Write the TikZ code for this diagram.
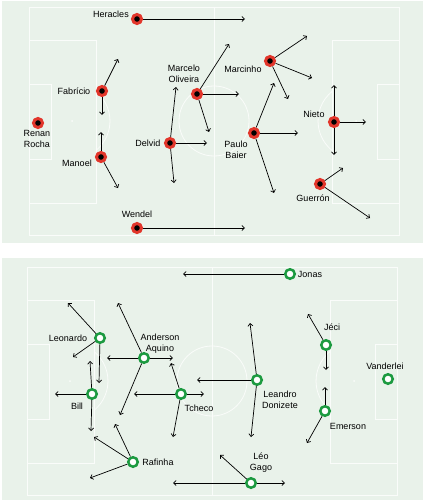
\documentclass[tikz,border=0pt]{standalone}
\usepackage{fontspec}
\setmainfont{Liberation Sans}
\usetikzlibrary{arrows.meta}
\definecolor{pitchbg}{HTML}{E9F2EA}
\definecolor{redP}{HTML}{E2362B}
\definecolor{greenP}{HTML}{1C9A40}
\definecolor{chalk}{HTML}{FAFCFA}

\begin{document}
\begin{tikzpicture}[
  x=1pt, y=-1pt,
  line/.style={draw=chalk, line width=0.8pt},
  redp/.style={circle, draw=redP, line width=3pt, fill=black, minimum size=9pt, inner sep=0pt},
  grnp/.style={circle, draw=greenP, line width=2.5pt, fill=white, minimum size=9.5pt, inner sep=0pt},
  mv/.style={-{Straight Barb[length=2.6pt,width=5pt]}, line width=0.7pt, black},
  lbl/.style={font=\fontsize{9}{11}\selectfont, align=center, inner sep=0pt}
]
\useasboundingbox (0,0) rectangle (426,503);
% panels
\fill[pitchbg] (2,1) rectangle (423,243);
\fill[pitchbg] (2,258) rectangle (423,500);
% pitch markings
\foreach \sx/\sy in {29/7, 27/267} {
  \begin{scope}[shift={(\sx,\sy)}]
    \draw[line] (0,0) rectangle (370,228);
    \draw[line] (185,0) -- (185,228);
    \draw[line] (185,114) circle[radius=35];
    \draw[line] (0,33) rectangle (67,196);
    \draw[line] (0,77) rectangle (22,152);
    \draw[line] (303,33) rectangle (370,196);
    \draw[line] (348,77) rectangle (370,152);
    \draw[line] (67,84.5) arc[start angle=-50.8, end angle=50.8, radius=38];
    \draw[line] (303,84.5) arc[start angle=230.8, end angle=129.2, radius=38];
    \fill[chalk] (43,114) circle[radius=1pt];
    \fill[chalk] (327,114) circle[radius=1pt];
  \end{scope}
}
% top team
\node[redp] (her) at (137,19) {};
\node[redp] (fab) at (102,91) {};
\node[redp] (ren) at (38,123) {};
\node[redp] (man) at (101,157) {};
\node[redp] (del) at (170,143) {};
\node[redp] (mar) at (197,94) {};
\node[redp] (mcn) at (270,61) {};
\node[redp] (pau) at (254,133) {};
\node[redp] (nie) at (334,122) {};
\node[redp] (gue) at (320,184) {};
\node[redp] (wen) at (137,228) {};
\node[lbl] (her-l) at (111,14) {Heracles};
\node[lbl] (fab-l) at (74,91) {Fabrício};
\node[lbl] (ren-l) at (37,138.5) {Renan\\Rocha};
\node[lbl] (man-l) at (77,163) {Manoel};
\node[lbl] (del-l) at (148,143) {Delvid};
\node[lbl] (mar-l) at (184,73.5) {Marcelo\\Oliveira};
\node[lbl] (mcn-l) at (243,69) {Marcinho};
\node[lbl] (pau-l) at (236,149.5) {Paulo\\Baier};
\node[lbl] (nie-l) at (314,114) {Nieto};
\node[lbl] (gue-l) at (313,198) {Guerrón};
\node[lbl] (wen-l) at (137,214) {Wendel};
\foreach \n/\ex/\ey [count=\k] in {her/245/19, fab/118/59, fab/102/115, man/101/132, man/118/188,
    del/176/87, del/207/143, del/174/183, mar/229/44, mar/239/94, mar/209/132,
    mcn/307/36, mcn/312/78, mcn/288/99, pau/274/83, pau/298/133, pau/274/193,
    nie/334/85, nie/366/122, nie/334/155, gue/343/168, gue/370/218, wen/245/228} {
  \coordinate (ta\k) at (\ex,\ey);
  \draw[mv] (\n) -- (ta\k);
}
% bottom team
\node[grnp] (jon) at (290,274) {};
\node[grnp] (leo) at (100,338) {};
\node[grnp] (bil) at (92,394) {};
\node[grnp] (and) at (144,358) {};
\node[grnp] (tch) at (181,394) {};
\node[grnp] (lea) at (257,380) {};
\node[grnp] (jec) at (326,345) {};
\node[grnp] (van) at (388,379) {};
\node[grnp] (eme) at (325,411) {};
\node[grnp] (raf) at (133,462) {};
\node[grnp] (gag) at (251,483) {};
\node[lbl] (jon-l) at (310,274) {Jonas};
\node[lbl] (leo-l) at (68,338) {Leonardo};
\node[lbl] (bil-l) at (77,406) {Bill};
\node[lbl] (and-l) at (160,343.5) {Anderson\\Aquino};
\node[lbl] (tch-l) at (199,408) {Tcheco};
\node[lbl] (lea-l) at (280,399.5) {Leandro\\Donizete};
\node[lbl] (jec-l) at (332,327) {Jéci};
\node[lbl] (van-l) at (385,366) {Vanderlei};
\node[lbl] (eme-l) at (348,426) {Emerson};
\node[lbl] (raf-l) at (158,462) {Rafinha};
\node[lbl] (gag-l) at (261,462.5) {Léo\\Gago};
\foreach \n/\ex/\ey [count=\k] in {jon/183/274, leo/68/303, leo/73/357, leo/99/383,
    bil/90/361, bil/55/394, bil/91/431, and/118/303, and/107/358, and/173/358, and/120/415,
    tch/171/363, tch/134/394, tch/204/394, tch/173/437, lea/250/323, lea/197/380, lea/251/437,
    jec/308/314, jec/326/370, eme/325/387, eme/307/443,
    raf/115/424, raf/94/437, raf/90/478, gag/220/455, gag/285/483, gag/173/483} {
  \coordinate (bt\k) at (\ex,\ey);
  \draw[mv] (\n) -- (bt\k);
}
\end{tikzpicture}
\end{document}
